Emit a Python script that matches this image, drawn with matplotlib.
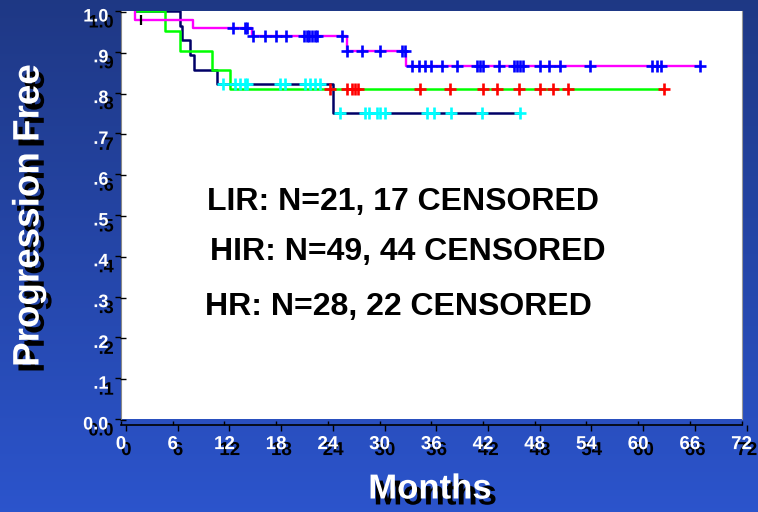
import numpy as np
import matplotlib
matplotlib.use("Agg")
import matplotlib.pyplot as plt
import matplotlib.patheffects as pe
from matplotlib.transforms import ScaledTranslation

plt.rcParams['font.family'] = ['Liberation Sans', 'DejaVu Sans']
plt.rcParams['font.weight'] = 'bold'

# Kaplan-Meier steps (months, progression free fraction)
hir_t = [1.6, 1.6, 8.4, 15.2, 26.25, 33.1, 67.2]
hir_s = [1.0, 0.978, 0.958, 0.939, 0.902, 0.865, 0.865]
lir_t = [1.6, 5.1, 6.85, 10.6, 12.65, 63.0]
lir_s = [1.0, 0.952, 0.903, 0.856, 0.810, 0.810]
hr_t = [1.6, 6.85, 7.1, 8.0, 8.5, 11.15, 24.6, 46.3]
hr_s = [1.0, 0.964, 0.929, 0.891, 0.855, 0.821, 0.751, 0.751]

# censored times
hir_first_cens = [2.3]
hir_cens = [12.96, 14.39, 14.65,
            15.28, 16.71, 17.98, 19.14, 21.23, 21.58, 21.81, 22.16, 22.51, 22.77, 25.6,
            26.25, 27.96, 30.05, 32.56, 32.95,
            33.72, 34.61, 35.27, 35.93, 37.2, 38.98, 41.33, 41.65, 41.96, 43.89,
            45.63, 45.94, 46.29, 46.64, 48.61, 49.69, 50.93, 54.41, 61.57, 62.15,
            62.65, 67.17]
lir_cens = [24.25, 26.18, 26.76, 27.15, 27.53, 34.69, 38.17, 41.96, 43.59,
            46.21, 48.61, 50.08, 51.89, 62.99]
hr_cens = [11.87, 13.23, 13.81, 14.39, 14.65, 18.45, 19.03, 21.35, 21.93, 22.51,
           23.09, 25.4, 28.3, 28.8, 29.66, 30.05, 30.63, 35.46, 36.31, 38.25,
           41.84, 46.29]

x_ticks = np.arange(0, 73, 6)
y_ticks = np.arange(0, 1.01, 0.1)
y_labels = ['0.0', '.1', '.2', '.3', '.4', '.5', '.6', '.7', '.8', '.9', '1.0']

notes = ['LIR: N=21, 17 CENSORED', 'HIR: N=49, 44 CENSORED', 'HR: N=28, 22 CENSORED']


def surv_at(tt, t, s):
    idx = np.searchsorted(np.array(t), np.array(tt), side='right') - 1
    return np.array(s)[np.clip(idx, 0, len(s) - 1)]


W, H = 758, 512
fig = plt.figure(figsize=(W / 100, H / 100), dpi=100)

# blue gradient background
bg = fig.add_axes([0, 0, 1, 1])
grad = np.linspace(0, 1, 256).reshape(-1, 1)
top = np.array([0.12, 0.22, 0.52])
bot = np.array([0.17, 0.33, 0.80])
img = top + (bot - top) * grad[:, :, None]
bg.imshow(img, aspect='auto', extent=[0, 1, 0, 1])
bg.axis('off')

pos = [121 / W, (H - 419) / H, 620.5 / W, 408 / H]
ax = fig.add_axes(pos)
ax.set_facecolor('white')
ax.set_xlim(0, 72)
ax.set_ylim(0, 1)

ax.step(hr_t, hr_s, where='post', color='#000066', lw=1.8, zorder=3)
ax.step(lir_t, lir_s, where='post', color='#00ff00', lw=1.8, zorder=4)
ax.step(hir_t, hir_s, where='post', color='#ff00ff', lw=1.7, zorder=4)

ms, mw = 8.5, 1.9
ax.plot(hr_cens, surv_at(hr_cens, hr_t, hr_s), '+', color='#00ffff', ms=ms, mew=mw, zorder=5)
ax.plot(lir_cens, surv_at(lir_cens, lir_t, lir_s), '+', color='#ff0000', ms=ms, mew=mw, zorder=5)
ax.plot(hir_cens, surv_at(hir_cens, hir_t, hir_s), '+', color='#0000ff', ms=ms, mew=mw, zorder=5)
ax.plot(hir_first_cens, surv_at(hir_first_cens, hir_t, hir_s), '|', color='black', ms=7, mew=1.6, zorder=5)

ax.spines['top'].set_visible(False)
ax.spines['right'].set_color('#999999')
ax.spines['left'].set_color('#888888')
ax.spines['bottom'].set_position(('outward', 4.3))
ax.spines['bottom'].set_color('black')
ax.spines['bottom'].set_linewidth(1.2)

shadow = [pe.SimplePatchShadow(offset=(3.8, -4.3), shadow_rgbFace='black', alpha=1.0), pe.Normal()]

ax.set_xticks(x_ticks)
ax.set_xticklabels([str(v) for v in x_ticks])
ax.set_yticks(y_ticks)
ax.set_yticklabels(y_labels)
ax.tick_params(axis='x', direction='in', length=3, width=1, color='black',
               labelsize=13.5, labelcolor='white', pad=8)
ax.tick_params(axis='y', direction='out', length=4, width=1, color='black',
               labelsize=13, labelcolor='white', pad=5)
for lab in ax.get_xticklabels() + ax.get_yticklabels():
    lab.set_fontweight('bold')
    lab.set_path_effects(shadow)
for lab in ax.get_yticklabels():
    lab.set_transform(lab.get_transform() + ScaledTranslation(0, -4 / 100, fig.dpi_scale_trans))

# shadow ticks
axs = fig.add_axes([pos[0] + 5 / W, pos[1] - 1 / H, pos[2], pos[3]])
axs.patch.set_visible(False)
axs.set_xlim(0, 72)
axs.set_ylim(0, 1)
for s in axs.spines.values():
    s.set_visible(False)
axs.spines['bottom'].set_position(('outward', 3.6))
axs.set_xticks(x_ticks)
axs.set_yticks(y_ticks)
axs.tick_params(axis='x', direction='out', length=4, width=1, color='black', labelbottom=False)
axs.tick_params(axis='y', direction='out', length=4, width=1, color='black', labelleft=False)

fig.text(29 / W, 1 - 216 / H, 'Progression Free', rotation=90, ha='center', va='center',
         color='white', fontsize=26.5, fontweight='bold', path_effects=shadow)
fig.text(430 / W, 1 - 489 / H, 'Months', ha='center', va='center',
         color='white', fontsize=25, fontweight='bold', path_effects=shadow)

note_x = [207, 210, 205]
note_y = [202, 252, 307]
for txt, nx, ny in zip(notes, note_x, note_y):
    fig.text(nx / W, 1 - ny / H, txt, ha='left', va='center', color='black',
             fontsize=23, fontweight='bold')

fig.savefig('out.png', dpi=100)
